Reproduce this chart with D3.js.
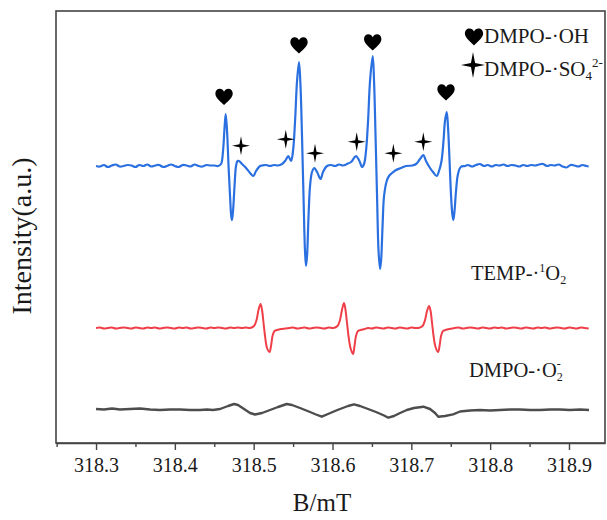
<!DOCTYPE html>
<html><head><meta charset="utf-8">
<script src="https://cdn.jsdelivr.net/npm/d3@7"></script>
<style>
html,body{margin:0;padding:0;background:#fff;}
svg text{font-family:"Liberation Serif","Times New Roman",serif;fill:#1a1a1a;}
</style></head>
<body><svg id="c" width="607" height="520"></svg>
<script>
// ---------- data (B in mT, intensity relative to each trace's own baseline, a.u.) ----------
const xTicks = [318.3, 318.4, 318.5, 318.6, 318.7, 318.8, 318.9];
const xMinorTicks = [318.25, 318.35, 318.45, 318.55, 318.65, 318.75, 318.85];
const traceNames = ["DMPO-·OH / DMPO-·SO4", "TEMP-·1O2", "DMPO-·O2-"];
const traceOffsets = [277, 115, 34];
const traceColors = ["#2b70e0", "#ef3f48", "#4d4d4d"];

const blueSpectrum = [
[318.300,0],[318.305,-0.5],[318.310,1],[318.315,-1],[318.320,0.5],[318.325,1.5],[318.330,-0.5],[318.335,0],
[318.340,1],[318.345,0.5],[318.350,-1],[318.355,1],[318.360,0],[318.365,1.5],[318.370,-0.5],[318.375,0.5],
[318.380,1],[318.385,-1],[318.390,0],[318.395,1.5],[318.400,0],[318.405,-1],[318.410,1],[318.415,0.5],
[318.420,-0.5],[318.425,1.5],[318.430,0],[318.435,-0.5],[318.440,1],[318.445,0.5],[318.450,0.5],
[318.4548,0],[318.4586,2],[318.4611,15],[318.4630,38],[318.4645,52],[318.4662,35],[318.4681,0],[318.4700,-30],
[318.4715,-50],[318.4725,-54],[318.4738,-45],[318.4757,-20],[318.4776,0],[318.4795,5],[318.4814,5],[318.4852,2],
[318.4903,-2],[318.4954,-7],[318.4996,-10],[318.5030,-5],[318.5081,0],[318.5106,0.5],[318.5157,1],[318.5207,0],
[318.5258,1],[318.5309,0.5],[318.5360,2],[318.5398,5],[318.5440,10],[318.5474,5],[318.5499,15],[318.5525,45],
[318.5550,85],[318.5575,104],[318.5594,80],[318.5613,30],[318.5632,-30],[318.5651,-85],[318.5664,-100],[318.5677,-90],
[318.5696,-50],[318.5715,-20],[318.5740,-6],[318.5769,-2],[318.5804,-6],[318.5848,-13],[318.5880,-6],[318.5930,0],
[318.5981,1],[318.6032,0],[318.6083,1.5],[318.6133,0.5],[318.6184,2],[318.6235,4],[318.6273,8],[318.6298,10],
[318.6336,6],[318.6375,-1],[318.6400,2],[318.6425,15],[318.6451,45],[318.6476,85],[318.6510,110],[318.6527,85],
[318.6546,30],[318.6565,-30],[318.6584,-85],[318.6603,-103],[318.6616,-95],[318.6635,-60],[318.6654,-30],[318.6688,-15],
[318.6717,-10],[318.6755,-7],[318.6806,-4],[318.6869,-2],[318.6933,0],[318.7009,0.5],[318.7060,2],[318.7110,7],
[318.7152,11],[318.7186,5],[318.7237,-2],[318.7275,-6],[318.7322,-10],[318.7351,-5],[318.7383,5],[318.7408,25],
[318.7427,45],[318.7449,54],[318.7466,38],[318.7485,5],[318.7504,-30],[318.7520,-48],[318.7533,-54],[318.7548,-45],
[318.7567,-25],[318.7592,-8],[318.7627,-1],[318.7681,0],
[318.772,1],[318.777,-0.5],[318.782,1],[318.787,2],[318.792,0],[318.797,1],[318.802,-0.5],[318.807,1],
[318.812,0.5],[318.817,1.5],[318.822,0],[318.827,1],[318.832,0.5],[318.837,-0.5],[318.842,1],[318.847,0],
[318.852,1],[318.857,0.5],[318.862,1.5],[318.867,2],[318.872,0],[318.877,1],[318.882,0.5],[318.887,1.5],
[318.892,-0.5],[318.897,-1.5],[318.902,1],[318.907,0.5],[318.912,-0.5],[318.917,1],[318.922,0],[318.925,-0.5]
];

const redSpectrum = [
[318.300,0],[318.305,0.5],[318.310,-0.5],[318.315,0],[318.320,0.5],[318.325,-0.5],[318.330,0],[318.335,0.5],
[318.340,0],[318.345,-0.5],[318.350,0.5],[318.355,0],[318.360,-0.5],[318.365,0.5],[318.370,0],[318.375,0.5],
[318.380,-0.5],[318.385,0],[318.390,0.5],[318.395,0],[318.400,-0.5],[318.405,0.5],[318.410,0],[318.415,0.5],
[318.420,-0.5],[318.425,0],[318.430,0.5],[318.435,0],[318.440,-0.5],[318.445,0.5],[318.450,0],[318.455,0.5],
[318.460,0],[318.465,-0.5],[318.470,0.5],[318.475,0],[318.480,0.5],[318.485,0],[318.490,0.5],
[318.4954,0],[318.5004,2],[318.5036,8],[318.5061,18],[318.5087,24],[318.5106,18],[318.5125,5],[318.5144,-8],
[318.5169,-20],[318.5201,-24],[318.5220,-18],[318.5239,-8],[318.5264,-3],[318.5296,-2],[318.5347,-1],
[318.540,-0.5],[318.545,0],[318.550,0.5],[318.555,-0.5],[318.560,0],[318.565,0.5],[318.570,-0.5],[318.575,0],
[318.580,0.5],[318.585,0],[318.590,-0.5],[318.595,0.5],
[318.6013,0],[318.6063,2],[318.6095,8],[318.6120,18],[318.6146,25],[318.6165,18],[318.6184,5],[318.6203,-8],
[318.6228,-20],[318.6260,-26],[318.6279,-18],[318.6298,-8],[318.6323,-3],[318.6355,-2],[318.6406,-1],
[318.645,0],[318.650,-0.5],[318.655,0.5],[318.660,0],[318.665,-0.5],[318.670,0.5],[318.675,0],[318.680,-0.5],
[318.685,0.5],[318.690,0],[318.695,-0.5],[318.700,0.5],[318.705,0],
[318.7092,0],[318.7142,2],[318.7174,8],[318.7199,17],[318.7225,22],[318.7244,17],[318.7263,5],[318.7282,-8],
[318.7307,-19],[318.7339,-24],[318.7358,-18],[318.7377,-8],[318.7402,-3],[318.7434,-2],[318.7485,-1],
[318.755,0],[318.760,0.5],[318.765,-0.5],[318.770,0],[318.775,0.5],[318.780,0],[318.785,-0.5],[318.790,0.5],
[318.795,0],[318.800,-0.5],[318.805,0.5],[318.810,0],[318.815,0.5],[318.820,-0.5],[318.825,0],[318.830,0.5],
[318.835,0],[318.840,-0.5],[318.845,0.5],[318.850,0],[318.855,-0.5],[318.860,0.5],[318.865,0],[318.870,0.5],
[318.875,-0.5],[318.880,0],[318.885,0.5],[318.890,0],[318.895,-0.5],[318.900,0.5],[318.905,0],[318.910,-0.5],
[318.915,0.5],[318.920,0],[318.925,-0.5]
];

const greySpectrum = [
[318.3000,0],[318.3101,-0.5],[318.3203,0.5],[318.3304,-0.5],[318.3431,0],[318.3558,0.5],[318.3685,-0.5],[318.3812,-1],
[318.3939,-0.5],[318.4066,-0.5],[318.4192,-1],[318.4319,-1],[318.4408,-0.5],[318.4484,-1],[318.4573,0],[318.4675,3],
[318.4751,5],[318.4801,4],[318.4878,0],[318.4954,-4],[318.5017,-5.5],[318.5106,-4],[318.5207,-1],[318.5309,2],
[318.5419,5],[318.5486,4],[318.5588,1],[318.5715,-3],[318.5791,-5.5],[318.5863,-7.7],[318.5943,-5],[318.6032,-2],
[318.6095,0],[318.6197,3],[318.6273,4.7],[318.6349,3],[318.6451,0],[318.6552,-3],[318.6654,-6.5],[318.6708,-8.7],
[318.6780,-7],[318.6857,-4],[318.6942,-1],[318.7034,1],[318.7152,2.3],[318.7237,0],[318.7301,-4],[318.7342,-7.7],
[318.7427,-7],[318.7529,-5.3],[318.7618,-2.5],[318.7745,-1.5],[318.7871,-1],[318.7998,-1.5],[318.8125,-1],[318.8252,-0.5],
[318.8379,-0.5],[318.8506,-1],[318.8633,-1],[318.8759,-0.5],[318.8886,-0.5],[318.9013,-1],[318.9140,-0.5],[318.9254,-1]
];

// marker positions above the blue trace: [B, height above blue baseline]
const ohMarkers = [[318.4624,69],[318.5575,120.5],[318.6510,123.5],[318.7440,73.5]];
const so4Markers = [[318.4839,20.3],[318.5407,26.7],[318.5778,12.7],[318.6307,24.3],[318.6772,12.7],[318.7152,24.3]];

// ---------- drawing ----------
const svg = d3.select("#c");
const box = {left:56, right:605, top:11, bottom:443};
const x = d3.scaleLinear().domain([318.2492, 318.9457]).range([box.left, box.right]);
const y = d3.scaleLinear().domain([0, 432]).range([box.bottom, box.top]);

const spectra = [blueSpectrum, redSpectrum, greySpectrum];
const widths = [2.2, 2, 2.4];
spectra.forEach((s, i) => {
  const line = d3.line()
    .x(d => x(d[0]))
    .y(d => y(d[1] + traceOffsets[i]))
    .curve(i === 2 ? d3.curveLinear : d3.curveCatmullRom.alpha(0.5));
  svg.append("path").datum(s)
    .attr("fill", "none").attr("stroke", traceColors[i])
    .attr("stroke-width", widths[i]).attr("stroke-linejoin", "round")
    .attr("d", line);
});

// frame
svg.append("rect").attr("x", box.left).attr("y", box.top)
  .attr("width", box.right - box.left).attr("height", box.bottom - box.top)
  .attr("fill", "none").attr("stroke", "#444").attr("stroke-width", 1.6);

// bottom axis
const ax = svg.append("g").attr("transform", `translate(0,${box.bottom})`)
  .call(d3.axisBottom(x).tickValues(xTicks).tickFormat(d3.format(".1f")).tickSize(7).tickSizeOuter(0));
ax.select(".domain").attr("stroke", "#444").attr("stroke-width", 1.6);
ax.selectAll(".tick line").attr("stroke", "#444").attr("stroke-width", 1.4);
ax.selectAll(".tick text").attr("font-size", 20).attr("dy", "0.95em")
  .attr("font-family", "Liberation Serif, serif").attr("fill", "#1a1a1a");
svg.append("g").attr("transform", `translate(0,${box.bottom})`)
  .call(d3.axisBottom(x).tickValues(xMinorTicks.filter(v => x(v) > box.left)).tickFormat("").tickSize(4).tickSizeOuter(0))
  .call(g => g.select(".domain").remove())
  .selectAll(".tick line").attr("stroke", "#444").attr("stroke-width", 1.4);

svg.append("text").attr("x", 322).attr("y", 511).attr("text-anchor", "middle")
  .attr("font-size", 25).text("B/mT");
svg.append("text").attr("transform", "translate(31,236) rotate(-90)").attr("text-anchor", "middle")
  .attr("font-size", 28).text("Intensity(a.u.)");

// markers
const heartPath = "M0,8 C-2.5,5.5 -8.7,0.8 -8.7,-3.3 C-8.7,-6.4 -6.6,-8.2 -4.4,-8.2 C-2.4,-8.2 -0.8,-7 0,-5.3 C0.8,-7 2.4,-8.2 4.4,-8.2 C6.6,-8.2 8.7,-6.4 8.7,-3.3 C8.7,0.8 2.5,5.5 0,8 Z";
function starPath(rx, ry){ const r = 0.17*Math.min(rx,ry);
  return `M0,${-ry} L${r},${-r} L${rx},0 L${r},${r} L0,${ry} L${-r},${r} L${-rx},0 L${-r},${-r} Z`; }
svg.selectAll(".oh").data(ohMarkers).join("path").attr("class","oh")
  .attr("transform", d => `translate(${x(d[0])},${y(d[1] + traceOffsets[0])})`)
  .attr("d", heartPath).attr("fill", "#000");
svg.selectAll(".so4").data(so4Markers).join("path").attr("class","so4")
  .attr("transform", d => `translate(${x(d[0])},${y(d[1] + traceOffsets[0])})`)
  .attr("d", starPath(9, 9.5)).attr("fill", "#000");

// legend
svg.append("path").attr("transform", "translate(474,37) scale(1.05)").attr("d", heartPath).attr("fill", "#000");
svg.append("path").attr("transform", "translate(473,65)").attr("d", starPath(12, 13)).attr("fill", "#000");
const t1 = svg.append("text").attr("x", 484).attr("y", 43).attr("font-size", 21);
t1.append("tspan").text("DMPO-·OH");
const t2 = svg.append("text").attr("x", 484).attr("y", 76).attr("font-size", 21);
t2.append("tspan").text("DMPO-·SO");
t2.append("tspan").attr("font-size", 13).attr("dy", 4).text("4");
t2.append("tspan").attr("font-size", 13).attr("dy", -13).text("2-");

// trace labels
const l1 = svg.append("text").attr("x", 471).attr("y", 280).attr("font-size", 20.5);
l1.append("tspan").text("TEMP-·");
l1.append("tspan").attr("font-size", 12).attr("dy", -8).text("1");
l1.append("tspan").attr("dy", 8).text("O");
l1.append("tspan").attr("font-size", 12).attr("dy", 4).text("2");
const l2 = svg.append("text").attr("x", 469).attr("y", 377).attr("font-size", 20.5);
l2.append("tspan").text("DMPO-·O");
l2.append("tspan").attr("font-size", 12).attr("dy", 4).text("2");
l2.append("tspan").attr("font-size", 12).attr("dx", -6).attr("dy", -13).text("-");
</script></body></html>
